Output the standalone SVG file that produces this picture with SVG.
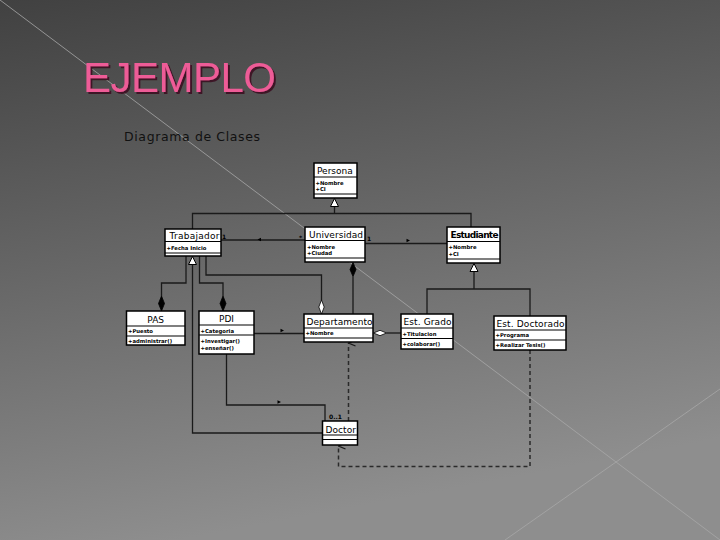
<svg xmlns="http://www.w3.org/2000/svg" width="720" height="540" viewBox="0 0 720 540">
<defs>
<linearGradient id="bg" x1="0" y1="0" x2="0.25" y2="1">
<stop offset="0" stop-color="#414141"/>
<stop offset="1" stop-color="#8e8e8e"/>
</linearGradient>
<filter id="sh" x="-5%" y="-20%" width="115%" height="150%">
<feDropShadow dx="2" dy="2" stdDeviation="0.4" flood-color="#3e1427" flood-opacity="1"/>
</filter>
<marker id="open" markerWidth="10" markerHeight="10" refX="5" refY="1" orient="auto-start-reverse" markerUnits="userSpaceOnUse" viewBox="0 0 10 10">
<path d="M2,8 L5,1 L8,8" fill="none" stroke="#1a1a1a" stroke-width="1.2"/>
</marker>
</defs>
<style>
.box{fill:#fff;stroke:#000;stroke-width:1.5}
.sep{stroke:#000;stroke-width:1.2}
.nm{font-family:"DejaVu Sans",sans-serif;font-size:9px;fill:#000}
.at{font-family:"DejaVu Sans",sans-serif;font-size:5.3px;font-weight:bold;fill:#000}
.ln{fill:none;stroke:#1a1a1a;stroke-width:1.3}
.dash{fill:none;stroke:#2a2a2a;stroke-width:1.5;stroke-dasharray:4 3}
.lbl{font-family:"DejaVu Sans",sans-serif;font-size:6px;font-weight:bold;fill:#000}
.tri{fill:#fff;stroke:#000;stroke-width:1}
.fd{fill:#000;stroke:#000;stroke-width:0.8}
.hd{fill:#fff;stroke:#000;stroke-width:0.8}
.ar{fill:#000}
</style>
<rect width="720" height="540" fill="url(#bg)"/>
<line x1="0" y1="0" x2="720" y2="540" stroke="#a8a8a8" stroke-width="1" opacity="0.8"/>
<line x1="720" y1="389" x2="505" y2="540" stroke="#a8a8a8" stroke-width="1" opacity="0.8"/>

<g id="title">
<text x="83" y="91.5" font-family="'Liberation Sans',Arial,sans-serif" font-size="42" fill="#ee5b97" textLength="193" filter="url(#sh)">EJEMPLO</text>
</g>
<text x="124" y="141" font-family="'DejaVu Sans',sans-serif" font-size="12.5" fill="#111" textLength="136">Diagrama de Clases</text>

<g id="connectors">
<path class="ln" d="M192.5,229 V213.5 H471 V227 M334.5,213.5 V206.5"/>
<polygon class="tri" points="334.5,198.5 330.5,206.5 338.5,206.5"/>
<path class="ln" d="M221,240 H305"/>
<text class="lbl" x="222" y="238.5">1</text>
<polygon class="ar" points="257.5,239.5 261,237.8 261,241.2"/>
<text class="lbl" x="299" y="240">*</text>
<path class="ln" d="M365,243.5 H447"/>
<text class="lbl" x="367" y="241">1</text>
<polygon class="ar" points="410,240.5 406.5,238.8 406.5,242.2"/>
<polygon class="tri" points="192.5,256.5 188.5,264.5 196.5,264.5"/>
<path class="ln" d="M192.5,264.5 V433 H322.5"/>
<path class="ln" d="M186,256 V283 H161.5 V296"/>
<polygon class="fd" points="161.5,296 158.5,303.5 161.5,311 164.5,303.5"/>
<path class="ln" d="M199.5,256 V283 H223 V296"/>
<polygon class="fd" points="223,296 220,303.5 223,311 226,303.5"/>
<path class="ln" d="M206,256 V275 H321.5 V300"/>
<polygon class="hd" points="321.5,300 318.8,307 321.5,314 324.2,307"/>
<polygon class="fd" points="353,262.5 350,269.5 353,276.5 356,269.5"/>
<path class="ln" d="M353,276.5 V314"/>
<path class="ln" d="M254,333.5 H304"/>
<polygon class="ar" points="284,330.5 280.5,328.8 280.5,332.2"/>
<polygon class="hd" points="373.5,333 380,330.3 386.5,333 380,335.7"/>
<path class="ln" d="M386.5,333 H401"/>
<polygon class="tri" points="474,263.5 470,271.5 478,271.5"/>
<path class="ln" d="M474,271.5 V289 M427,314 V289 H530 V316"/>
<path class="ln" d="M226.5,354 V405 H325 V421"/>
<polygon class="ar" points="281,402 277.5,400.3 277.5,403.7"/>
<text class="lbl" x="329" y="418.5">0..1</text>
<path class="dash" d="M530,350 V466.5 H338.5 V446" marker-end="url(#open)"/>
<path class="dash" d="M348.5,421 V343" marker-end="url(#open)"/>
</g>

<g id="persona">
<rect class="box" x="314" y="163" width="43" height="35"/>
<line class="sep" x1="314" y1="177" x2="357" y2="177"/>
<line class="sep" x1="314" y1="194" x2="357" y2="194"/>
<text class="nm" x="317" y="174">Persona</text>
<text class="at" x="315.5" y="184.5">+Nombre</text>
<text class="at" x="315.5" y="190.8">+CI</text>
</g>

<g id="trabajador">
<rect class="box" x="165" y="229" width="56" height="27"/>
<line class="sep" x1="165" y1="241.5" x2="221" y2="241.5"/>
<line class="sep" x1="165" y1="253" x2="221" y2="253"/>
<text class="nm" x="169.5" y="239" textLength="50">Trabajador</text>
<text class="at" x="166.5" y="250">+Fecha Inicio</text>
</g>

<g id="universidad">
<rect class="box" x="305" y="227" width="60" height="35"/>
<line class="sep" x1="305" y1="240.5" x2="365" y2="240.5"/>
<line class="sep" x1="305" y1="258" x2="365" y2="258"/>
<text class="nm" x="309" y="237.5" textLength="54">Universidad</text>
<text class="at" x="307" y="248.5">+Nombre</text>
<text class="at" x="307" y="255">+Ciudad</text>
</g>

<g id="estudiante">
<rect class="box" x="447" y="227" width="53" height="36"/>
<line class="sep" x1="447" y1="241.5" x2="500" y2="241.5"/>
<line class="sep" x1="447" y1="259" x2="500" y2="259"/>
<text class="nm" x="450.5" y="238" font-weight="bold" textLength="48">Estudiante</text>
<text class="at" x="448.5" y="248.5">+Nombre</text>
<text class="at" x="448.5" y="255.5">+CI</text>
</g>

<g id="pas">
<rect class="box" x="126.5" y="311" width="58.5" height="34"/>
<line class="sep" x1="126.5" y1="326" x2="185" y2="326"/>
<line class="sep" x1="126.5" y1="336" x2="185" y2="336"/>
<text class="nm" x="155.7" y="322.5" text-anchor="middle">PAS</text>
<text class="at" x="128" y="333">+Puesto</text>
<text class="at" x="128" y="342.5">+administrar()</text>
</g>

<g id="pdi">
<rect class="box" x="199" y="311" width="55" height="43"/>
<line class="sep" x1="199" y1="325" x2="254" y2="325"/>
<line class="sep" x1="199" y1="335" x2="254" y2="335"/>
<text class="nm" x="226.5" y="322" text-anchor="middle">PDI</text>
<text class="at" x="200.5" y="332.5">+Categoria</text>
<text class="at" x="200.5" y="342.5">+Investigar()</text>
<text class="at" x="200.5" y="349.5">+enseñar()</text>
</g>

<g id="departamento">
<rect class="box" x="304" y="314" width="69" height="28"/>
<line class="sep" x1="304" y1="328" x2="373" y2="328"/>
<line class="sep" x1="304" y1="338" x2="373" y2="338"/>
<text class="nm" x="306.5" y="324.5" textLength="66">Departamento</text>
<text class="at" x="305.5" y="335">+Nombre</text>
</g>

<g id="est-grado">
<rect class="box" x="401" y="314" width="52" height="35"/>
<line class="sep" x1="401" y1="328" x2="453" y2="328"/>
<line class="sep" x1="401" y1="338.5" x2="453" y2="338.5"/>
<text class="nm" x="403.5" y="324.5" textLength="48">Est. Grado</text>
<text class="at" x="402.5" y="335.5">+Titulacion</text>
<text class="at" x="402.5" y="345.5">+colaborar()</text>
</g>

<g id="est-doctorado">
<rect class="box" x="494" y="316" width="72" height="34"/>
<line class="sep" x1="494" y1="330" x2="566" y2="330"/>
<line class="sep" x1="494" y1="340" x2="566" y2="340"/>
<text class="nm" x="496.5" y="327" textLength="68">Est. Doctorado</text>
<text class="at" x="495.5" y="337">+Programa</text>
<text class="at" x="495.5" y="347">+Realizar Tesis()</text>
</g>

<g id="doctor">
<rect class="box" x="322.5" y="421" width="35" height="24"/>
<line class="sep" x1="322.5" y1="435" x2="357.5" y2="435"/>
<line class="sep" x1="322.5" y1="439.5" x2="357.5" y2="439.5"/>
<text class="nm" x="325.5" y="432.5" textLength="30.5">Doctor</text>
</g>
</svg>
